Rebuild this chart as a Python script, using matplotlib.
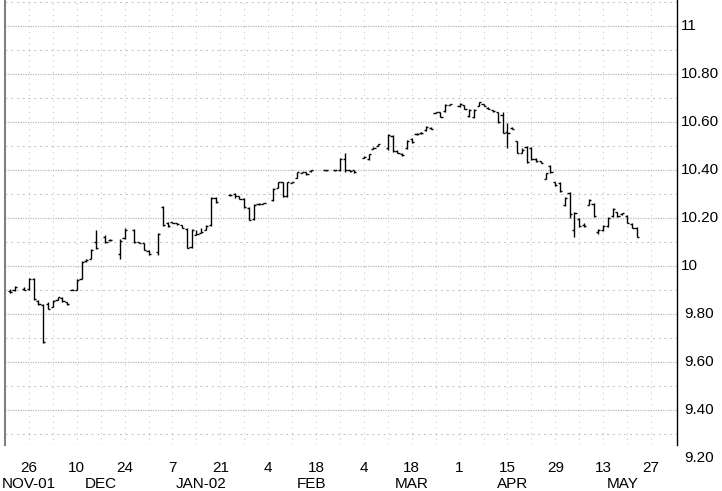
import numpy as np
import matplotlib
matplotlib.use("Agg")
import matplotlib.pyplot as plt
from matplotlib.transforms import blended_transform_factory

# ---------------- data ----------------
dates = ["2001-11-20", "2001-11-21", "2001-11-23", "2001-11-26", "2001-11-27", "2001-11-28",
         "2001-11-29", "2001-11-30", "2001-12-03", "2001-12-04", "2001-12-05", "2001-12-06",
         "2001-12-07", "2001-12-10", "2001-12-11", "2001-12-12", "2001-12-13", "2001-12-14",
         "2001-12-18", "2001-12-19", "2001-12-21", "2001-12-24", "2001-12-26", "2001-12-27",
         "2001-12-28", "2001-12-31", "2002-01-02", "2002-01-03", "2002-01-04", "2002-01-07",
         "2002-01-08", "2002-01-09", "2002-01-10", "2002-01-11", "2002-01-14", "2002-01-15",
         "2002-01-16", "2002-01-17", "2002-01-18", "2002-01-23", "2002-01-24", "2002-01-25",
         "2002-01-28", "2002-01-29", "2002-01-30", "2002-01-31", "2002-02-01", "2002-02-05",
         "2002-02-06", "2002-02-07", "2002-02-08", "2002-02-11", "2002-02-12", "2002-02-13",
         "2002-02-14", "2002-02-15", "2002-02-20", "2002-02-22", "2002-02-25", "2002-02-26",
         "2002-02-27", "2002-02-28", "2002-03-04", "2002-03-05", "2002-03-06", "2002-03-07",
         "2002-03-11", "2002-03-12", "2002-03-13", "2002-03-14", "2002-03-15", "2002-03-18",
         "2002-03-19", "2002-03-20", "2002-03-21", "2002-03-22", "2002-03-25", "2002-03-26",
         "2002-03-27", "2002-03-28", "2002-04-01", "2002-04-02", "2002-04-03", "2002-04-04",
         "2002-04-05", "2002-04-08", "2002-04-09", "2002-04-10", "2002-04-11", "2002-04-12",
         "2002-04-15", "2002-04-16", "2002-04-17", "2002-04-18", "2002-04-19", "2002-04-22",
         "2002-04-23", "2002-04-24", "2002-04-25", "2002-04-26", "2002-04-29", "2002-04-30",
         "2002-05-01", "2002-05-02", "2002-05-03", "2002-05-06", "2002-05-07", "2002-05-08",
         "2002-05-09", "2002-05-10", "2002-05-13", "2002-05-14", "2002-05-15", "2002-05-16",
         "2002-05-17", "2002-05-20", "2002-05-21", "2002-05-22"]

opens = [9.895, 9.900, 9.905, 9.905, 9.945, 9.855, 9.838, 9.840, 9.830, 9.860, 9.868, 9.850,
         9.900, 9.900, 9.945, 10.020, 10.030, 10.100, 10.120, 10.108, 10.050, 10.115, 10.150, 10.100,
         10.095, 10.062, 10.060, 10.245, 10.180, 10.183, 10.178, 10.170, 10.155, 10.080, 10.130, 10.138,
         10.152, 10.170, 10.285, 10.295, 10.300, 10.290, 10.280, 10.240, 10.195, 10.258, 10.260, 10.275,
         10.325, 10.350, 10.290, 10.345, 10.365, 10.388, 10.390, 10.395, 10.398, 10.400, 10.400, 10.445,
         10.400, 10.400, 10.450, 10.445, 10.488, 10.500, 10.490, 10.540, 10.480, 10.468, 10.490, 10.530,
         10.548, 10.553, 10.566, 10.576, 10.638, 10.640, 10.645, 10.672, 10.665, 10.670, 10.625, 10.620,
         10.668, 10.673, 10.660, 10.648, 10.640, 10.630, 10.560, 10.575, 10.520, 10.472, 10.495, 10.490,
         10.447, 10.436, 10.363, 10.415, 10.350, 10.345, 10.255, 10.305, 10.150, 10.195, 10.170, 10.256,
         10.260, 10.140, 10.150, 10.165, 10.207, 10.225, 10.215, 10.210, 10.175, 10.160]

highs = [9.905, 9.917, 9.911, 9.950, 9.949, 9.858, 9.840, 9.851, 9.858, 9.872, 9.870, 9.851,
         9.903, 9.945, 10.021, 10.029, 10.070, 10.150, 10.129, 10.111, 10.111, 10.157, 10.154, 10.102,
         10.097, 10.067, 10.138, 10.250, 10.185, 10.185, 10.180, 10.171, 10.157, 10.155, 10.150, 10.157,
         10.171, 10.289, 10.289, 10.300, 10.303, 10.292, 10.282, 10.244, 10.260, 10.262, 10.263, 10.324,
         10.351, 10.351, 10.351, 10.352, 10.393, 10.393, 10.391, 10.400, 10.401, 10.402, 10.451, 10.469,
         10.401, 10.400, 10.458, 10.467, 10.494, 10.510, 10.550, 10.546, 10.483, 10.470, 10.525, 10.532,
         10.553, 10.557, 10.583, 10.578, 10.643, 10.643, 10.675, 10.675, 10.678, 10.671, 10.653, 10.653,
         10.685, 10.675, 10.661, 10.650, 10.643, 10.643, 10.595, 10.580, 10.522, 10.490, 10.500, 10.497,
         10.449, 10.439, 10.389, 10.421, 10.351, 10.351, 10.289, 10.310, 10.226, 10.199, 10.178, 10.280,
         10.261, 10.153, 10.171, 10.205, 10.240, 10.226, 10.222, 10.2125, 10.178, 10.164]

lows = [9.887, 9.896, 9.900, 9.900, 9.858, 9.837, 9.679, 9.820, 9.828, 9.858, 9.851, 9.837,
        9.898, 9.900, 9.945, 10.018, 10.028, 10.070, 10.095, 10.105, 10.028, 10.111, 10.097, 10.095,
        10.067, 10.046, 10.046, 10.165, 10.161, 10.178, 10.171, 10.157, 10.074, 10.075, 10.129, 10.136,
        10.150, 10.167, 10.261, 10.290, 10.285, 10.278, 10.240, 10.190, 10.190, 10.256, 10.257, 10.272,
        10.324, 10.289, 10.289, 10.344, 10.365, 10.386, 10.380, 10.393, 10.396, 10.397, 10.397, 10.393,
        10.393, 10.389, 10.450, 10.442, 10.487, 10.500, 10.483, 10.476, 10.470, 10.460, 10.486, 10.511,
        10.546, 10.552, 10.564, 10.570, 10.636, 10.620, 10.643, 10.670, 10.664, 10.653, 10.622, 10.615,
        10.667, 10.667, 10.653, 10.643, 10.595, 10.553, 10.490, 10.570, 10.470, 10.470, 10.430, 10.442,
        10.435, 10.428, 10.361, 10.386, 10.333, 10.310, 10.250, 10.200, 10.122, 10.164, 10.164, 10.254,
        10.205, 10.133, 10.147, 10.164, 10.205, 10.203, 10.2125, 10.178, 10.157, 10.120]

closes = [9.890, 9.913, 9.902, 9.945, 9.862, 9.842, 9.682, 9.822, 9.855, 9.870, 9.855, 9.840,
          9.900, 9.940, 10.015, 10.027, 10.068, 10.075, 10.100, 10.107, 10.105, 10.150, 10.100, 10.097,
          10.068, 10.048, 10.135, 10.170, 10.165, 10.180, 10.173, 10.160, 10.076, 10.150, 10.135, 10.140,
          10.168, 10.285, 10.265, 10.297, 10.290, 10.280, 10.245, 10.192, 10.255, 10.260, 10.261, 10.320,
          10.350, 10.290, 10.350, 10.350, 10.390, 10.390, 10.382, 10.398, 10.400, 10.399, 10.445, 10.400,
          10.395, 10.390, 10.455, 10.465, 10.492, 10.508, 10.545, 10.480, 10.472, 10.462, 10.520, 10.515,
          10.552, 10.556, 10.580, 10.572, 10.640, 10.622, 10.672, 10.674, 10.676, 10.655, 10.650, 10.650,
          10.683, 10.668, 10.655, 10.644, 10.600, 10.555, 10.555, 10.572, 10.472, 10.485, 10.432, 10.445,
          10.438, 10.430, 10.386, 10.390, 10.337, 10.312, 10.285, 10.215, 10.222, 10.165, 10.168, 10.275,
          10.207, 10.150, 10.165, 10.200, 10.237, 10.207, 10.220, 10.180, 10.160, 10.122]

day_tick_dates = ["2001-11-26", "2001-12-10", "2001-12-24", "2002-01-07", "2002-01-21", "2002-02-04",
                  "2002-02-18", "2002-03-04", "2002-03-18", "2002-04-01", "2002-04-15", "2002-04-29",
                  "2002-05-13", "2002-05-27"]
day_tick_labels = ["26", "10", "24", "7", "21", "4", "18", "4", "18", "1", "15", "29", "13", "27"]

month_label_dates = ["2001-11-26", "2001-12-17", "2002-01-15", "2002-02-15", "2002-03-18",
                     "2002-04-16", "2002-05-17"]
month_labels = ["NOV-01", "DEC", "JAN-02", "FEB", "MAR", "APR", "MAY"]

y_ticks = [11.0, 10.8, 10.6, 10.4, 10.2, 10.0, 9.8, 9.6, 9.4, 9.2]
y_tick_labels = ["11", "10.80", "10.60", "10.40", "10.20", "10", "9.80", "9.60", "9.40", "9.20"]

# ---------------- helpers ----------------
BASE = "2001-11-19"


def bidx(d):
    return float(np.busday_count(BASE, d))


x = np.array([bidx(d) for d in dates])
o = np.array(opens)
h = np.array(highs)
l = np.array(lows)
c = np.array(closes)

plt.rcParams["font.family"] = ["Liberation Sans", "DejaVu Sans"]

W, H = 722, 491
fig = plt.figure(figsize=(W / 100, H / 100), dpi=100)
ax_left, ax_right, ax_top, ax_bot = 5, 677, 0, 445
ax = fig.add_axes([ax_left / W, 1 - ax_bot / H, (ax_right - ax_left) / W, (ax_bot - ax_top) / H])

px_per_unit_y = 240.0
ymax = 11.0 + 26 / px_per_unit_y
ymin = ymax - (ax_bot - ax_top) / px_per_unit_y
ax.set_ylim(ymin, ymax)
ax.set_xlim(0, (ax_right - ax_left) / 4.785)

# grid
week_dates = np.arange(np.datetime64("2001-11-26"), np.datetime64("2002-06-03"), 7)
week_x = [bidx(str(d)) for d in week_dates]
for wx in week_x:
    ax.axvline(wx, color="#c4c4c4", lw=0.75, ls=(0, (1.0, 4.5)), zorder=0)
for v in np.arange(9.3, 11.15, 0.2):
    ax.axhline(v, color="#c4c4c4", lw=0.75, ls=(0, (2.0, 3.5)), zorder=0)
for v in np.arange(9.2, 11.15, 0.2):
    ax.axhline(v, color="#b8b8b8", lw=0.9, ls=(0, (1.0, 1.0)), zorder=0)

# OHLC bars
tw = 0.45
ax.vlines(x, l, h, color="black", lw=1.0, zorder=3)
ax.hlines(o, x - tw, x, color="black", lw=1.0, zorder=3)
ax.hlines(c, x, x + tw, color="black", lw=1.0, zorder=3)

# spines / ticks
ax.spines["top"].set_visible(False)
ax.spines["bottom"].set_visible(False)
ax.spines["left"].set_color("#808080")
ax.spines["left"].set_linewidth(1.5)
ax.spines["right"].set_color("black")
ax.spines["right"].set_linewidth(1.0)
ax.set_yticks([])
ax.set_xticks([])

# y labels (right side)
ty = blended_transform_factory(fig.transFigure, ax.transData)
for v, lab in zip(y_ticks, y_tick_labels):
    xpos = 681 if v >= 10 else 684
    ax.text(xpos / W, v, lab, transform=ty, ha="left", va="center", fontsize=11, clip_on=False)

# x labels
tx = blended_transform_factory(ax.transData, fig.transFigure)
for d, lab in zip(day_tick_dates, day_tick_labels):
    ax.text(bidx(d), 1 - 468 / H, lab, transform=tx, ha="center", va="center", fontsize=11, clip_on=False)
for d, lab in zip(month_label_dates, month_labels):
    ax.text(bidx(d), 1 - 483.5 / H, lab, transform=tx, ha="center", va="center", fontsize=11, clip_on=False)

fig.savefig("out.png", dpi=100)
